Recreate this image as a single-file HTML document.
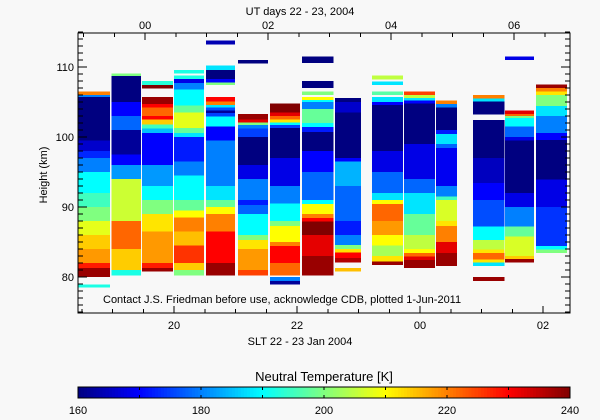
<!DOCTYPE html>
<html><head><meta charset="utf-8"><style>
body{margin:0;background:#f8f8f8}
svg{display:block;font-family:"Liberation Sans",sans-serif;font-size:11px;fill:#000}
</style></head><body>
<svg id="chart" width="600" height="420" viewBox="0 0 600 420" shape-rendering="crispEdges">
<rect x="0" y="0" width="600" height="420" fill="#f8f8f8"/>
<g id="marks"></g>
<g id="axes"></g>
<text x="300" y="15" text-anchor="middle">UT days 22 - 23, 2004</text>
<text x="300" y="345" text-anchor="middle">SLT 22 - 23 Jan 2004</text>
<text x="47" y="175" text-anchor="middle" transform="rotate(-90 47 175)">Height (km)</text>
<text x="103" y="303">Contact J.S. Friedman before use, acknowledge CDB, plotted 1-Jun-2011</text>
<text x="324" y="381" text-anchor="middle" font-size="13">Neutral Temperature [K]</text>
<g id="cbar"></g>
</svg>
<script>
const colStart=[18.44,18.98,19.48,20.00,20.52,21.04,21.56,22.08,22.62,23.22,23.74,24.26,24.86,25.38,25.89];
const colEnd=[18.96,19.46,19.98,20.49,20.99,21.53,22.05,22.59,23.04,23.72,24.24,24.60,25.37,25.85,26.39];
const colSegs=[
[[106.5,106,220],[106,105.7,180],[105.7,99.5,160],[99.5,98,166],[98,97,173],[97,95,180],[95,92,190],[92,90,195],[90,88,200],[88,86,208],[86,84,214],[84,82,218],[82,81.3,228],[81.3,80,238],[78.9,78.5,192]],
[[109.1,108.7,200],[108.7,105,160],[105,103,170],[103,101,178],[101,97.5,162],[97.5,96,170],[96,94,182],[94,88,206],[88,84,222],[84,81,214],[81,80.2,192]],
[[108,107.4,193],[107.4,106.9,240],[105.7,104.7,238],[104.7,104.2,230],[104.2,103,222],[103,102.5,230],[102.5,101.8,214],[101.8,101.2,195],[101.2,100.6,185],[100.6,96,170],[96,93,182],[93,91,190],[91,89,200],[89,86.5,212],[86.5,82,218],[82,81.3,228],[81.3,80.8,238]],
[[109.6,109.1,192],[108.8,108.3,192],[108.3,107.7,168],[107.7,106.8,180],[106.8,104.5,190],[104.5,103.5,198],[103.5,101.3,208],[101.3,100.6,198],[100.6,100,188],[100,96.5,172],[96.5,94.5,180],[94.5,91,190],[91,89.5,198],[89.5,88.5,210],[88.5,86.5,220],[86.5,84.5,215],[84.5,82,226],[82,81,214],[81,80.2,200]],
[[113.8,113.2,164],[110.2,109.6,188],[109.6,108.3,160],[108.3,107.8,170],[107.8,107.4,200],[105.7,105.1,230],[105.1,104.6,220],[104.6,104.2,188],[104.2,103.8,176],[103.8,103.4,162],[103.4,102.9,175],[102.9,101.5,190],[101.5,99.5,170],[99.5,93,180],[93,91,188],[91,90,198],[90,89,210],[89,86.5,220],[86.5,82,230],[82,80.2,238]],
[[111,110.5,160],[103.3,102.5,238],[102.5,102.1,232],[102.1,101.7,200],[101.7,101.2,180],[101.2,100,175],[100,96,160],[96,94,168],[94,91,180],[91,90.3,172],[90.3,89,178],[89,86,190],[86,85.3,200],[85.3,84,212],[84,81,218],[81,80.2,225]],
[[104.8,103.5,240],[103.5,103,232],[103,102.5,222],[102.5,102.1,212],[102.1,101.7,190],[101.7,101.3,175],[101.3,97,160],[97,93,168],[93,90.5,180],[90.5,88,190],[88,87.3,200],[87.3,85,210],[85,84.4,220],[84.4,82,230],[82,80.2,222],[80,79.4,180],[79.4,78.9,162]],
[[111.5,110.6,160],[108,107,160],[106.5,106,200],[105.7,105.3,210],[105.3,105,190],[105,104,180],[104,102,198],[102,101.4,190],[101.4,100.7,172],[100.7,98,160],[98,95,170],[95,91,178],[91,90.4,190],[90.4,89,210],[89,88.4,220],[88.4,87.9,230],[87.9,86,240],[86,83,232],[83,80.2,238]],
[[105.6,105,160],[105,103.5,166],[103.5,97,160],[97,96.5,170],[96.5,93,184],[93,88,178],[88,86,172],[86,84.6,180],[84.6,84,200],[84,83.5,212],[83.5,82.7,230],[82.7,82.1,236],[81.3,80.8,215]],
[[108.8,108.2,205],[107.9,107.4,188],[106.5,106,197],[105.7,105,188],[105,104.6,170],[104.6,98,160],[98,95,168],[95,92,178],[92,91,188],[91,90.4,210],[90.4,88,222],[88,86,218],[86,84.5,210],[84.5,83,203],[83,82.2,212],[82.2,81.7,238]],
[[106.5,106,225],[106,105.6,205],[105.6,105.2,188],[105.2,104.8,170],[104.8,99,160],[99,94,168],[94,92,178],[92,89,188],[89,86,198],[86,84,205],[84,83.4,210],[83.4,82.9,222],[82.9,82.4,232],[82.4,81.3,238]],
[[105.2,104.7,220],[104.7,104.2,180],[104.2,101,160],[101,100.4,172],[100.4,99,188],[99,98.4,178],[98.4,93,169],[93,91.5,180],[91.5,91,195],[91,88,207],[88,87.3,212],[87.3,85,220],[85,83.4,232],[83.4,81.6,238]],
[[106,105.5,220],[105.5,105.1,188],[105.1,103.2,160],[102.4,97,160],[97,93.4,165],[93.4,91,170],[91,87.2,176],[87.2,85.3,190],[85.3,83.9,205],[83.9,83.4,212],[83.4,82.5,222],[82.5,82.1,212],[82.1,81.6,188],[80,79.4,238]],
[[111.5,111,168],[103.8,103.3,232],[103.3,103,222],[103,102.7,200],[102.7,101.5,190],[101.5,100,178],[100,99.5,168],[99.5,92,160],[92,90,168],[90,87.2,180],[87.2,85.8,198],[85.8,83,207],[83,82.6,214],[82.6,82.1,238]],
[[107.5,107,238],[107,106.5,220],[106.5,106,212],[106,104.4,200],[104.4,103,188],[103,100.6,180],[100.6,99.6,170],[99.6,93.9,160],[93.9,90,168],[90,84.4,174],[84.4,83.9,190],[83.9,83.4,200]]
];
const yTicks=[80,90,100,110];
const sltTicks=[20,22,24,26];
const sltLabels=["20","22","00","02"];
const utTicks=[0,2,4,6];
const utLabels=["00","02","04","06"];
const cbTicks=[160,180,200,220,240];

const L=78,R=570,T=33,B=313;
const xs=t=>174+(t-20)*61.5;
const ys=h=>277-(h-80)*7;
const UT0=19.53;
const cmin=160,cmax=240;
function jet(v){let t=Math.max(0,Math.min(1,(v-cmin)/(cmax-cmin)));
 const c=x=>Math.round(255*Math.max(0,Math.min(1,x)));
 return `rgb(${c(1.5-Math.abs(4*t-3))},${c(1.5-Math.abs(4*t-2))},${c(1.5-Math.abs(4*t-1))})`;}
const NS="http://www.w3.org/2000/svg";
function mk(tag,attrs,parent){const e=document.createElementNS(NS,tag);for(const k in attrs)e.setAttribute(k,attrs[k]);parent.appendChild(e);return e;}
const marks=document.getElementById('marks');
colSegs.forEach((segs,i)=>{
 const g=mk('g',{},marks);
 
 
 const x0=xs(colStart[i]),x1=xs(colEnd[i]);
 segs.forEach(s=>{
  const y0=ys(s[0]),y1=ys(s[1]);
  const r=mk('rect',{x:x0.toFixed(1),y:y0.toFixed(1),width:(x1-x0).toFixed(1),height:Math.max(1,y1-y0).toFixed(1),fill:jet(s[2])},g);
  
  
 });
});
const ax=document.getElementById('axes');
const frame=mk('rect',{x:L,y:T,width:R-L,height:B-T,fill:'none',stroke:'#000','stroke-width':1},ax);


for(let h=75;h<=115;h++){const y=ys(h);const len=h%10==0?9:5;
 mk('line',{x1:L,x2:L+len,y1:y,y2:y,stroke:'#000'},ax);mk('line',{x1:R,x2:R-len,y1:y,y2:y,stroke:'#000'},ax);}
yTicks.forEach(v=>{const t=mk('text',{x:74,y:ys(v)+4,'text-anchor':'end'},ax);t.textContent=v;
 
 });
for(let s=18.5;s<=26.4;s+=0.5){const x=xs(s);const len=(Math.abs(s-Math.round(s))<0.01&&Math.round(s)%2==0)?7:4;
 mk('line',{x1:x,x2:x,y1:B,y2:B-len,stroke:'#000'},ax);}
sltTicks.forEach((v,i)=>{const t=mk('text',{x:xs(v),y:329,'text-anchor':'middle'},ax);t.textContent=sltLabels[i];
 
 });
for(let u=-1;u<=7;u+=0.5){const x=xs(u+UT0);if(x<L||x>R)continue;const len=(Math.abs(u-Math.round(u))<0.01&&Math.round(u)%2==0)?7:4;
 mk('line',{x1:x,x2:x,y1:T,y2:T+len,stroke:'#000'},ax);}
utTicks.forEach((v,i)=>{const t=mk('text',{x:xs(v+UT0),y:29,'text-anchor':'middle'},ax);t.textContent=utLabels[i];
 
 });
const cb=document.getElementById('cbar');
const cbx=v=>L+(v-cmin)/(cmax-cmin)*(R-L);
for(let v=cmin;v<cmax;v+=0.5){mk('rect',{x:cbx(v),y:387,width:cbx(v+0.5)-cbx(v)+0.6,height:11,fill:jet(v+0.25)},cb);}
mk('rect',{x:L,y:387,width:R-L,height:11,fill:'none',stroke:'#000'},cb);
for(let v=170;v<240;v+=10){mk('line',{x1:cbx(v),x2:cbx(v),y1:387,y2:390,stroke:'#000'},cb);mk('line',{x1:cbx(v),x2:cbx(v),y1:398,y2:395,stroke:'#000'},cb);}
cbTicks.forEach(v=>{const t=mk('text',{x:cbx(v),y:414,'text-anchor':'middle'},cb);t.textContent=v;
 
 });
</script>
</body></html>
